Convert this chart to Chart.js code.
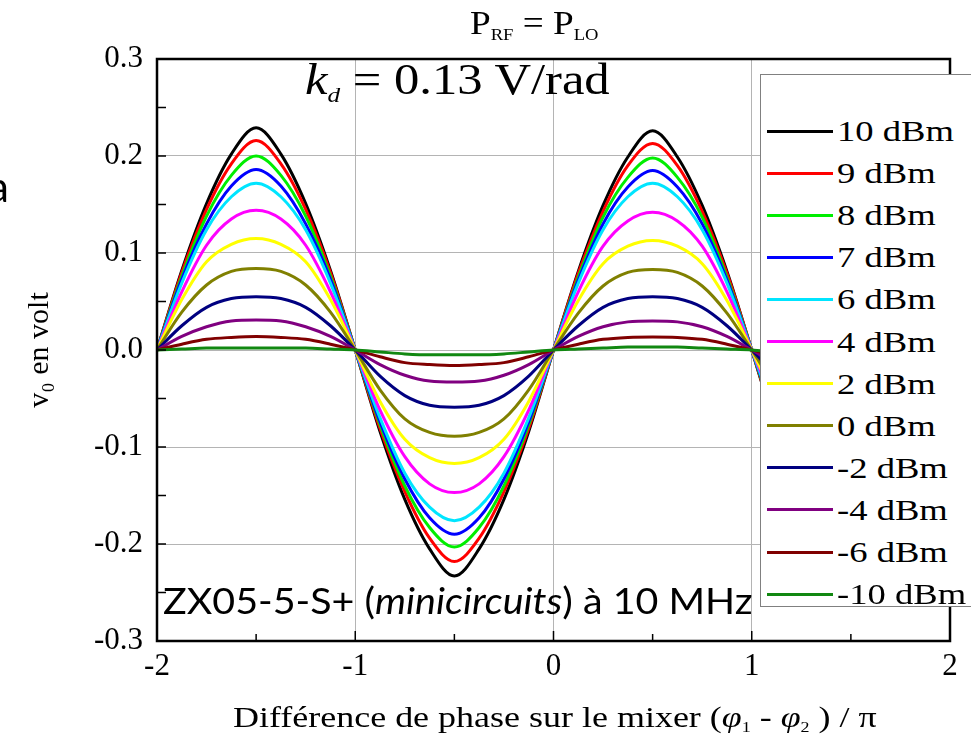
<!DOCTYPE html>
<html>
<head>
<meta charset="utf-8">
<script src="https://cdn.jsdelivr.net/npm/chart.js"></script>
<style>
  body { margin: 0; background: #fff; }
  #wrap { position: relative; width: 971px; height: 753px; overflow: hidden; font-family: 'Liberation Serif', serif; }
  #chart { position: absolute; left: 0; top: 0; }
  .ov { position: absolute; white-space: nowrap; line-height: 1; color: #000; transform-origin: left center; }
  .ov sub { font-size: 50%; vertical-align: -0.35em; }
  #legend { position: absolute; left: 760px; top: 74px; width: 230px; height: 533px; background: #fff;
            border: 1.5px solid #808080; box-sizing: border-box; }
  .item { position: absolute; left: 6px; height: 32px; display: flex; align-items: center; font-size: 30px; white-space: nowrap; }
  .swatch { width: 66px; height: 3px; margin-right: 4px; }
  .lbl { display: inline-block; transform: scaleX(1.22); transform-origin: left center; }
</style>
</head>
<body>
<div id="wrap">
  <canvas id="chart" width="971" height="753"></canvas>
  <div class="ov" id="title" style="left:470px;top:6px;font-size:34px;">P<sub>RF</sub> = P<sub>LO</sub></div>
  <div class="ov" id="kd" style="left:305px;top:58px;font-size:44px;"><i>k</i><sub><i>d</i></sub> = 0.13 V/rad</div>
  <div class="ov" id="zx" style="left:163px;top:581px;font-size:37px;font-family:Lato,'Open Sans',sans-serif;">ZX05-5-S+ (<i>minicircuits</i>) à 10 MHz</div>
  <div class="ov" id="a" style="left:-12px;top:165px;font-size:42px;font-family:Lato,'Open Sans',sans-serif;">a</div>
  <div class="ov" id="xtitle" style="left:233px;top:702px;font-size:30px;">Différence de phase sur le mixer (<i>φ</i><sub>1</sub> - <i>φ</i><sub>2</sub> ) / π</div>
  <div id="legend"></div>
</div>
<script>
// phase difference (x / pi)
const phase = [-2, -1.875, -1.75, -1.625, -1.5, -1.375, -1.25, -1.125, -1, -0.875, -0.75, -0.625, -0.5, -0.375, -0.25, -0.125,
  0, 0.125, 0.25, 0.375, 0.5, 0.625, 0.75, 0.875, 1, 1.125, 1.25, 1.375, 1.5, 1.625, 1.75, 1.875, 2];

// v0 (volt) for each power level
const v10 = [0, 0.082, 0.151, 0.202, 0.229, 0.202, 0.151, 0.082, 0, -0.084, -0.154, -0.205, -0.233, -0.205, -0.154, -0.084,
  0, 0.081, 0.149, 0.199, 0.226, 0.199, 0.149, 0.081, 0, -0.083, -0.152, -0.202, -0.230, -0.202, -0.152, -0.083, 0];
const v9 = [0, 0.080, 0.145, 0.192, 0.216, 0.192, 0.145, 0.080, 0, -0.081, -0.146, -0.194, -0.218, -0.194, -0.146, -0.081,
  0, 0.079, 0.143, 0.190, 0.213, 0.190, 0.143, 0.079, 0, -0.080, -0.145, -0.192, -0.216, -0.192, -0.145, -0.080, 0];
const v8 = [0, 0.076, 0.138, 0.180, 0.200, 0.180, 0.138, 0.076, 0, -0.077, -0.140, -0.183, -0.203, -0.183, -0.140, -0.077,
  0, 0.075, 0.137, 0.178, 0.198, 0.178, 0.137, 0.075, 0, -0.076, -0.138, -0.180, -0.200, -0.180, -0.138, -0.076, 0];
const v7 = [0, 0.073, 0.130, 0.169, 0.186, 0.169, 0.130, 0.073, 0, -0.074, -0.133, -0.173, -0.190, -0.173, -0.133, -0.074,
  0, 0.072, 0.130, 0.168, 0.185, 0.168, 0.130, 0.072, 0, -0.073, -0.131, -0.170, -0.187, -0.170, -0.131, -0.073, 0];
const v6 = [0, 0.069, 0.124, 0.158, 0.172, 0.158, 0.124, 0.069, 0, -0.070, -0.127, -0.162, -0.176, -0.162, -0.127, -0.070,
  0, 0.069, 0.124, 0.158, 0.172, 0.158, 0.124, 0.069, 0, -0.069, -0.125, -0.159, -0.173, -0.159, -0.125, -0.069, 0];
const v4 = [0, 0.060, 0.108, 0.135, 0.144, 0.135, 0.108, 0.060, 0, -0.062, -0.110, -0.138, -0.147, -0.138, -0.110, -0.062,
  0, 0.060, 0.107, 0.133, 0.142, 0.133, 0.107, 0.060, 0, -0.060, -0.108, -0.135, -0.144, -0.135, -0.108, -0.060, 0];
const v2 = [0, 0.052, 0.091, 0.109, 0.115, 0.109, 0.091, 0.052, 0, -0.053, -0.092, -0.111, -0.117, -0.111, -0.092, -0.053,
  0, 0.051, 0.089, 0.107, 0.113, 0.107, 0.089, 0.051, 0, -0.052, -0.091, -0.109, -0.115, -0.109, -0.091, -0.052, 0];
const v0 = [0, 0.039, 0.067, 0.081, 0.084, 0.081, 0.067, 0.039, 0, -0.041, -0.071, -0.085, -0.089, -0.085, -0.071, -0.041,
  0, 0.038, 0.066, 0.080, 0.083, 0.080, 0.066, 0.038, 0, -0.039, -0.068, -0.082, -0.085, -0.082, -0.068, -0.039, 0];
const vm2 = [0, 0.025, 0.044, 0.053, 0.055, 0.053, 0.044, 0.025, 0, -0.027, -0.047, -0.057, -0.059, -0.057, -0.047, -0.027,
  0, 0.025, 0.044, 0.053, 0.055, 0.053, 0.044, 0.025, 0, -0.026, -0.045, -0.054, -0.056, -0.054, -0.045, -0.026, 0];
const vm4 = [0, 0.014, 0.024, 0.030, 0.031, 0.030, 0.024, 0.014, 0, -0.015, -0.026, -0.032, -0.033, -0.032, -0.026, -0.015,
  0, 0.014, 0.024, 0.029, 0.030, 0.029, 0.024, 0.014, 0, -0.014, -0.024, -0.030, -0.031, -0.030, -0.024, -0.014, 0];
const vm6 = [0, 0.006, 0.011, 0.013, 0.014, 0.013, 0.011, 0.006, 0, -0.007, -0.013, -0.015, -0.016, -0.015, -0.013, -0.007,
  0, 0.006, 0.011, 0.013, 0.0135, 0.013, 0.011, 0.006, 0, -0.006, -0.011, -0.013, -0.014, -0.013, -0.011, -0.006, 0];
const vm10 = [0, 0.001, 0.002, 0.002, 0.002, 0.002, 0.002, 0.001, 0, -0.002, -0.004, -0.005, -0.005, -0.005, -0.004, -0.002,
  0, 0.001, 0.002, 0.003, 0.003, 0.003, 0.002, 0.001, 0, -0.002, -0.003, -0.004, -0.004, -0.004, -0.003, -0.002, 0];

const seriesLabels = ['10 dBm', '9 dBm', '8 dBm', '7 dBm', '6 dBm', '4 dBm', '2 dBm', '0 dBm', '-2 dBm', '-4 dBm', '-6 dBm', '-10 dBm'];
const seriesValues = [v10, v9, v8, v7, v6, v4, v2, v0, vm2, vm4, vm6, vm10];
const seriesColors = ['#000000', '#ff0000', '#00ee00', '#0000ff', '#00e5ff', '#ff00ff', '#ffff00', '#808000', '#000080', '#800080', '#800000', '#118811'];

const xTicks = [-2, -1, 0, 1, 2];
const yTicks = [-0.3, -0.2, -0.1, 0.0, 0.1, 0.2, 0.3];

Chart.defaults.font.family = "'Liberation Serif', serif";
Chart.defaults.color = '#000';

// frame + inner tick marks like the original plot
const framePlugin = {
  id: 'frame',
  afterDatasetsDraw(chart) {
    const ctx = chart.ctx;
    const a = chart.chartArea;
    const x = chart.scales.x, y = chart.scales.y;
    ctx.save();
    ctx.strokeStyle = '#000';
    ctx.lineWidth = 1.5;
    ctx.beginPath();
    for (let i = 0; i <= 12; i++) {
      const py = y.getPixelForValue(-0.3 + i * 0.05);
      ctx.moveTo(a.left, py);
      ctx.lineTo(a.left + 9, py);
    }
    for (let i = 0; i <= 8; i++) {
      const px = x.getPixelForValue(-2 + i * 0.5);
      ctx.moveTo(px, a.bottom);
      ctx.lineTo(px, a.bottom - (i % 2 === 0 ? 10 : 7));
    }
    ctx.stroke();
    ctx.lineWidth = 2.5;
    ctx.strokeRect(a.left, a.top, a.right - a.left, a.bottom - a.top);
    ctx.restore();
  }
};

const ctx = document.getElementById('chart').getContext('2d');
new Chart(ctx, {
  type: 'line',
  data: {
    datasets: seriesLabels.map((label, i) => ({
      label: label,
      data: phase.map((p, j) => ({ x: p, y: seriesValues[i][j] })),
      borderColor: seriesColors[i],
      backgroundColor: seriesColors[i],
      borderWidth: 3,
      pointRadius: 0,
      cubicInterpolationMode: 'monotone',
      order: seriesLabels.length - i
    }))
  },
  options: {
    responsive: false,
    animation: false,
    layout: { padding: { top: 59, right: 21, left: 0, bottom: 0 } },
    plugins: { legend: { display: false }, tooltip: { enabled: false } },
    scales: {
      x: {
        type: 'linear',
        min: -2, max: 2,
        afterBuildTicks: (s) => { s.ticks = xTicks.map(v => ({ value: v })); },
        afterFit: (s) => { s.height = 112; },
        grid: { color: '#b4b4b4', lineWidth: 1, drawTicks: false },
        border: { display: false },
        ticks: { font: { size: 31 }, padding: 7, callback: (v) => String(v) }
      },
      y: {
        min: -0.3, max: 0.3,
        afterBuildTicks: (s) => { s.ticks = yTicks.map(v => ({ value: v })); },
        afterFit: (s) => { s.width = 157; },
        grid: { color: '#b4b4b4', lineWidth: 1, drawTicks: false },
        border: { display: false },
        ticks: { font: { size: 31 }, padding: 14, callback: (v) => v.toFixed(1) },
        title: { display: true, text: 'v₀ en volt', font: { size: 30 }, padding: { top: 22, bottom: 0 } }
      }
    }
  },
  plugins: [framePlugin]
});

// legend box drawn over the right side of the plot
const legend = document.getElementById('legend');
seriesLabels.forEach((label, i) => {
  const item = document.createElement('div');
  item.className = 'item';
  item.style.top = (131 + i * 42.1 - 74 - 17) + 'px';
  const sw = document.createElement('span');
  sw.className = 'swatch';
  sw.style.background = seriesColors[i];
  const txt = document.createElement('span');
  txt.className = 'lbl';
  txt.textContent = label;
  item.appendChild(sw);
  item.appendChild(txt);
  legend.appendChild(item);
});

// stretch overlay texts to the widths they have in the picture
function fitWidth(id, w) {
  const el = document.getElementById(id);
  el.style.transform = 'scaleX(' + (w / el.offsetWidth) + ')';
}
fitWidth('title', 128);
fitWidth('kd', 305);
fitWidth('zx', 589);
fitWidth('xtitle', 644);
</script>
</body>
</html>
